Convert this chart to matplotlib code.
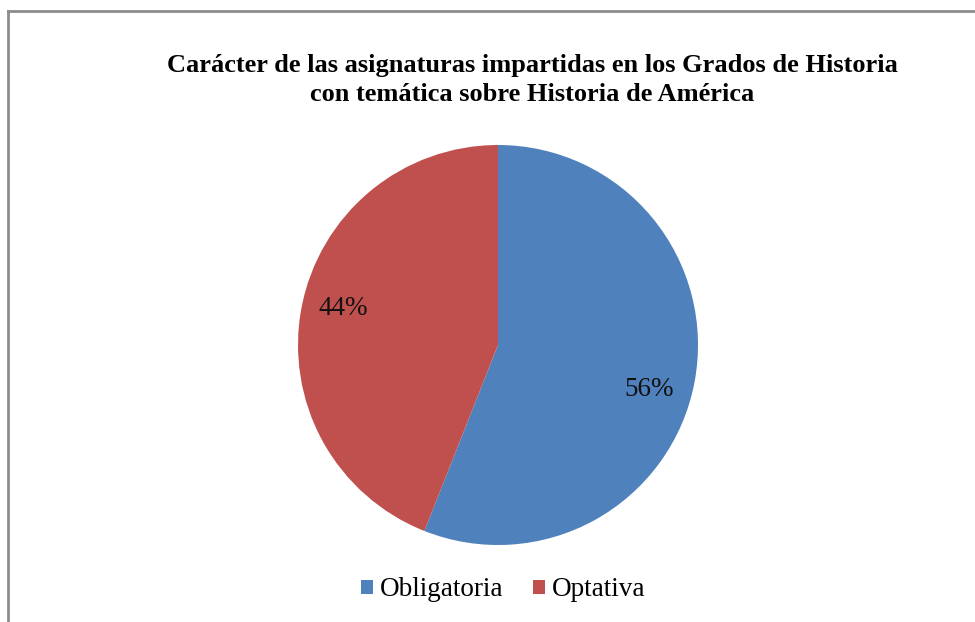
import matplotlib
matplotlib.use("Agg")
import matplotlib.pyplot as plt
from matplotlib.lines import Line2D
from matplotlib.patches import Patch

categories = ["Obligatoria", "Optativa"]
values = [56, 44]
colors = ["#4F81BD", "#C0504D"]
title = "Carácter de las asignaturas impartidas en los Grados de Historia\ncon temática sobre Historia de América"

plt.rcParams['font.family'] = ['Liberation Serif', 'DejaVu Serif']

W, H = 975, 622
fig = plt.figure(figsize=(W / 100, H / 100), dpi=100)

# border (left and top only, as in reference)
fig.add_artist(Line2D([8 / W, 8 / W], [0, 1 - 11 / H], transform=fig.transFigure,
                      color="#8c8c8c", lw=2))
fig.add_artist(Line2D([8 / W, 1], [1 - 11 / H, 1 - 11 / H], transform=fig.transFigure,
                      color="#8c8c8c", lw=2))

cx, cy, r = 498, 345, 200
ax = fig.add_axes([(cx - r) / W, (H - cy - r) / H, 2 * r / W, 2 * r / H])
wedges, texts, autotexts = ax.pie(values, colors=colors, startangle=90, counterclock=False,
                                  autopct=lambda p: f"{p:.0f}%", pctdistance=0.8, radius=1,
                                  textprops=dict(fontsize=19.5, color="#111111"))
# small label nudges (best-fit placement)
nudges = [(-0.03, -0.075), (0.01, 0.035)]
for t, (dx, dy) in zip(autotexts, nudges):
    x, y = t.get_position()
    t.set_position((x + dx, y + dy))
ax.set_xlim(-1, 1)
ax.set_ylim(-1, 1)
ax.set_aspect("equal")
ax.axis("off")

fig.text(532 / W, 1 - 80 / H, title, ha="center", va="center", fontsize=19,
         fontweight="bold", linespacing=1.38)

handles = [Patch(facecolor=c, edgecolor="none") for c in colors]
fig.legend(handles, categories, loc="center", bbox_to_anchor=(503 / W, 1 - 590 / H),
           ncol=2, frameon=False, fontsize=19.5, handlelength=0.45, handleheight=0.45,
           handletextpad=0.25, columnspacing=1.1)

fig.savefig("out.png", dpi=100)
